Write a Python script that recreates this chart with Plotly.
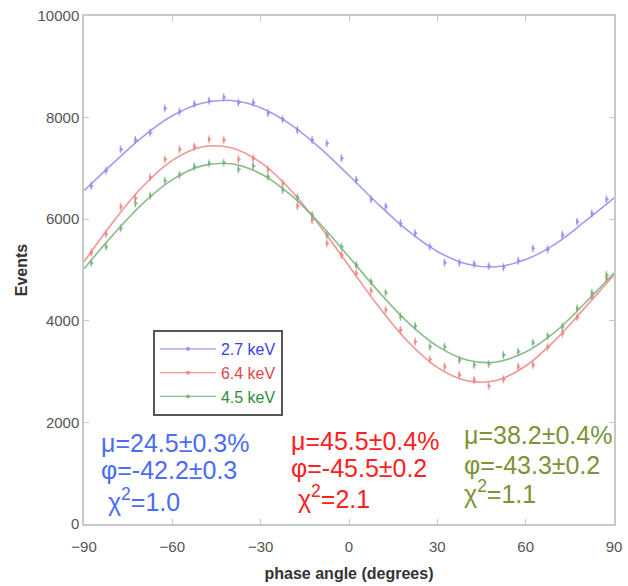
import plotly.graph_objects as go

# phase angle bin centres (degrees)
angles = [-87.5, -82.5, -77.5, -72.5, -67.5, -62.5, -57.5, -52.5, -47.5, -42.5, -37.5, -32.5,
          -27.5, -22.5, -17.5, -12.5, -7.5, -2.5, 2.5, 7.5, 12.5, 17.5, 22.5, 27.5,
          32.5, 37.5, 42.5, 47.5, 52.5, 57.5, 62.5, 67.5, 72.5, 77.5, 82.5, 87.5]

ev_27 = [6654, 6955, 7376, 7559, 7703, 8183, 8116, 8268, 8333, 8400, 8294, 8294,
         8085, 7966, 7756, 7559, 7494, 7199, 6772, 6392, 6246, 5919, 5722, 5459,
         5144, 5144, 5118, 5079, 5053, 5183, 5427, 5407, 5689, 5951, 6116, 6392]
ev_64 = [5341, 5709, 6246, 6411, 6825, 7179, 7376, 7427, 7573, 7559, 7179, 7199,
         6982, 6706, 6260, 5984, 5525, 5295, 4935, 4593, 4213, 3819, 3589, 3242,
         3097, 2933, 2835, 2717, 2848, 3097, 3130, 3478, 3754, 4069, 4474, 4837]
ev_45 = [5144, 5459, 5821, 6313, 6457, 6758, 6870, 7034, 7100, 7112, 6982, 7047,
         6837, 6575, 6431, 6083, 5689, 5459, 5098, 4770, 4553, 4081, 3898, 3490,
         3490, 3228, 3130, 3150, 3327, 3392, 3569, 3701, 3884, 4246, 4553, 4902]
err = [80] * len(angles)

# fitted modulation curves, read every 10 degrees
fit_x = [-90, -80, -70, -60, -50, -40, -30, -20, -10, 0, 10, 20, 30, 40, 50, 60, 70, 80, 90]
fit_27 = [6560, 7108, 7627, 8035, 8281, 8337, 8195, 7873, 7409, 6860, 6292, 5773, 5365, 5119, 5063, 5205, 5510, 5950, 6420]
fit_64 = [5161, 5955, 6648, 7157, 7421, 7407, 7117, 6586, 5878, 5079, 4285, 3592, 3083, 2819, 2825, 3110, 3620, 4250, 4900]
fit_45 = [5023, 5701, 6311, 6779, 7050, 7091, 6896, 6489, 5920, 5257, 4579, 3969, 3501, 3230, 3189, 3384, 3780, 4340, 4940]

labels = ["2.7 keV", "6.4 keV", "4.5 keV"]
fit_text = [
    ["μ=24.5±0.3%", "φ=-42.2±0.3", " χ<sup>2</sup>=1.0"],
    ["μ=45.5±0.4%", "φ=-45.5±0.2", " χ<sup>2</sup>=2.1"],
    ["μ=38.2±0.4%", "φ=-43.3±0.2", "χ<sup>2</sup>=1.1"],
]

LINE_COLORS = ["rgba(140,140,240,0.85)", "rgba(238,130,130,0.85)", "rgba(120,175,120,0.85)"]
LEG_TEXT = ["#4040e0", "#e04848", "#2e8b3a"]
FIT_TEXT = ["#4a6cf7", "#ff2020", "#7a9436"]

fig = go.Figure()
for lab, ys, fy, c, tc in zip(labels, [ev_27, ev_64, ev_45], [fit_27, fit_64, fit_45], LINE_COLORS, LEG_TEXT):
    fig.add_trace(go.Scatter(x=fit_x, y=fy, mode="lines", line=dict(color=c, width=1.6, shape="spline"),
                             showlegend=False, hoverinfo="skip"))
    fig.add_trace(go.Scatter(x=angles, y=ys, mode="markers",
                             marker=dict(color=c, size=5, symbol="triangle-right"),
                             error_y=dict(type="data", array=err, color=c, thickness=1, width=0),
                             showlegend=False))
    # legend-only entry
    fig.add_trace(go.Scatter(x=[None], y=[None], mode="lines+markers",
                             name=f"<span style='color:{tc}'>{lab}</span>",
                             line=dict(color=c, width=1.2), marker=dict(color=c, size=4)))

# fit parameter blocks: (x start, y of each line)
blocks = [(-84.9, [1594, 1063, 472]), (-20.4, [1634, 1102, 531]), (38.4, [1752, 1161, 630])]
for (bx, bys), lines, col in zip(blocks, fit_text, FIT_TEXT):
    for by, t in zip(bys, lines):
        fig.add_annotation(x=bx, y=by, text=t, showarrow=False, xanchor="left", yanchor="middle",
                           font=dict(family="Arial", size=25, color=col))

axis_style = dict(showline=True, linecolor="#c8c8c8", linewidth=1.5, mirror="ticks", ticks="inside",
                  ticklen=5, tickcolor="#c8c8c8", showgrid=False, zeroline=False, automargin=False,
                  tickfont=dict(family="Arial", size=15, color="#555555"))

fig.update_layout(
    width=628, height=586, plot_bgcolor="white", paper_bgcolor="white",
    margin=dict(l=84, r=14, t=16, b=62),
    font=dict(family="Arial"),
    xaxis=dict(range=[-90, 90], tickvals=[-90, -60, -30, 0, 30, 60, 90], ticklabelstandoff=8,
               title=dict(text="<b>phase angle (degrees)</b>", font=dict(size=16, color="#333333"), standoff=14),
               **axis_style),
    yaxis=dict(range=[0, 10000], dtick=2000, tickformat="d",
               title=dict(text="<b>Events</b>", font=dict(size=16, color="#333333"), standoff=6),
               **axis_style),
    legend=dict(x=0.13, y=0.382, xanchor="left", yanchor="top", bgcolor="white",
                bordercolor="#555555", borderwidth=2, itemwidth=56,
                font=dict(family="Arial", size=16), tracegroupgap=0),
)

fig.write_html("out.html", config={"displayModeBar": False},
               post_script="document.body.style.margin='0';")
